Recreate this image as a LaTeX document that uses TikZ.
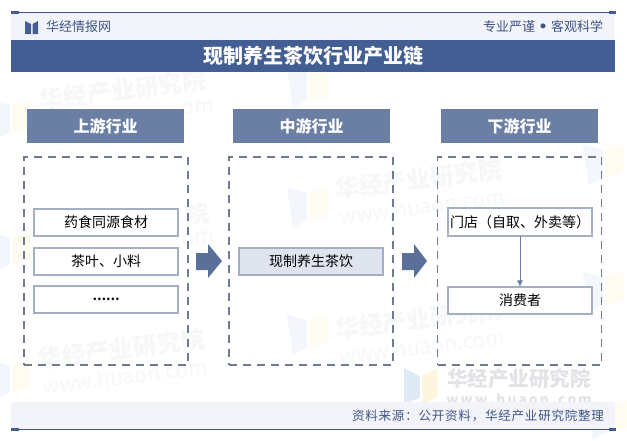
\documentclass[tikz,border=0pt]{standalone}
\usepackage{fontspec}
\setmainfont{Noto Sans CJK SC}
\usetikzlibrary{arrows.meta}
\definecolor{navy}{HTML}{435E92}
\definecolor{linenavy}{HTML}{3F5488}
\definecolor{stripbg}{HTML}{F2F4F9}
\definecolor{headbg}{HTML}{6A7FA3}
\definecolor{dashc}{HTML}{6F7B92}
\definecolor{boxc}{HTML}{A5AFC3}
\definecolor{midbg}{HTML}{DFE4EE}
\definecolor{arrowc}{HTML}{5A7099}
\definecolor{linkc}{HTML}{6F7DA0}
\definecolor{wmtext}{HTML}{F6F7F8}
\definecolor{wmstrong}{HTML}{E2E3E6}
\definecolor{wmblue}{HTML}{F3F7FC}
\definecolor{wmyellow}{HTML}{FEFBF0}
\definecolor{logoblue}{HTML}{DFEAF7}
\definecolor{logoyellow}{HTML}{FDF6DF}
\tikzset{
  base/.style={inner sep=0pt,outer sep=0pt,text=black},
  header/.style={base,fill=headbg,text=white,font=\fontsize{16}{16}\selectfont\bfseries,minimum width=157pt,minimum height=34pt},
  column/.style={base,draw=dashc,line width=1.8pt,dash pattern=on 8pt off 6pt,minimum width=164pt,minimum height=208pt},
  itembox/.style={base,draw=boxc,fill=white,line width=2pt,font=\fontsize{14}{14}\selectfont,minimum width=144pt,minimum height=27.5pt},
  midbox/.style={itembox,fill=midbg},
  flow/.style={fill=arrowc},
  link/.style={draw=linkc,line width=1pt,-{Latex[length=6.5pt,width=6.5pt]}},
  wm/.style={base,text=wmtext,font=\fontsize{24}{27}\selectfont\bfseries,rotate=7},
  wmblock/.style={wm,align=center},
  wmurl/.style={base,text=wmtext,font=\fontsize{21}{21}\selectfont,rotate=7},
}
\begin{document}
\begin{tikzpicture}[x=1pt,y=-1pt]
\useasboundingbox (0,0) rectangle (627,440);
\fill[white] (0,0) rectangle (627,440);
% faint watermarks
\node[wm] (wmna) at (123,90) {华经产业研究院};
\node[wmurl] (wmua) at (198,108) {om};
\node[wm] (wmnc) at (197,214) {院};
\node[wmurl] (wmuc) at (198,238) {om};
\foreach \wx/\wy/\wn in {420/191/b,420/331/d,123/361/e}{
  \node[wmblock] (wmn\wn) at (\wx,\wy) {华经产业研究院\\{\fontsize{21}{21}\selectfont\mdseries www.huaon.com}};
}
\foreach \lx/\ly in {-10/100,287/68,-10/232,287/188,583/145,-10/360,287/315,583/272,587/400}{
  \fill[wmblue] (\lx,\ly) -- (\lx+20,\ly+5) -- (\lx+20,\ly+32) -- (\lx+6,\ly+40) -- cycle;
  \fill[wmyellow] (\lx+22,\ly+5) -- (\lx+40,\ly) -- (\lx+40,\ly+28) -- (\lx+22,\ly+33) -- cycle;
}
% bottom-right logo
\fill[logoblue] (404,368) -- (420,376) -- (420,398) -- (404,404) -- cycle;
\fill[logoyellow] (422,376) -- (437,368) -- (437,398) -- (422,404) -- cycle;
\node[base,text=wmstrong,font=\fontsize{20.5}{20.5}\selectfont\bfseries] (wmname) at (519,379) {华经产业研究院};
\node[base,text=wmstrong,font=\fontsize{13.5}{13.5}\selectfont\bfseries] (wmsite) at (519,399) {w\,w\,w\,.\,h\,u\,a\,o\,n\,.\,c\,o\,m};
% strips
\fill[stripbg] (11,13) rectangle (615,40);
\fill[stripbg] (11,402) rectangle (615,429);
\draw[linenavy,line width=.9pt] (11,12.5) -- (616,12.5);
\draw[linenavy,line width=.9pt] (11,429) -- (616,429);
\fill[navy] (11,11) rectangle (19,14);
\fill[navy] (609,11) rectangle (616,14);
\fill[navy] (11,427.5) rectangle (19,430.5);
\fill[navy] (609,427.5) rectangle (616,430.5);
% logo glyph
\fill[navy] (25,21) -- (31,24) -- (31,34) -- (25,34) -- cycle;
\fill[navy] (38,21) -- (32.5,24) -- (32.5,34) -- (38,34) -- cycle;
\node[base,text=linenavy,font=\fontsize{13}{13}\selectfont,anchor=west] (brand) at (46,27) {华经情报网};
\node[base,text=linenavy,font=\fontsize{13}{13}\selectfont,anchor=east] (motto) at (603,26.5) {专业严谨\makebox[16pt]{\raisebox{2.7pt}{\fontsize{5.5}{5.5}\selectfont ●}}客观科学};
% title
\node[base,fill=navy,text=white,font=\fontsize{20}{20}\selectfont\bfseries,minimum width=604pt,minimum height=32pt] (title) at (313,56) {现制养生茶饮行业产业链};
% headers
\node[header] (h1) at (105.5,126) {上游行业};
\node[header] (h2) at (311.5,126) {中游行业};
\node[header] (h3) at (519.5,126) {下游行业};
% columns
\node[column] (c1) at (106,261) {};
\node[column] (c2) at (311,261) {};
\node[column] (c3) at (519.5,261) {};
% items
\node[itembox] (a1) at (106,222.5) {药食同源食材};
\node[itembox] (a2) at (106,261.5) {茶叶、小料};
\node[itembox,font=\fontsize{12}{12}\selectfont\bfseries] (a3) at (106,299.5) {……};
\node[midbox] (m1) at (311,261.5) {现制养生茶饮};
\node[itembox] (d1) at (520,222) {门店（自取、外卖等）};
\node[itembox] (d2) at (520,300.5) {消费者};
\draw[link] (d1) -- (d2);
% flow arrows
\fill[flow] (196,253) -- (208,253) -- (208,244) -- (222,261) -- (208,278) -- (208,270) -- (196,270) -- cycle;
\fill[flow] (402,253) -- (414,253) -- (414,244) -- (427,261) -- (414,278) -- (414,270) -- (402,270) -- cycle;
% footer
\node[base,text=linenavy,font=\fontsize{12.5}{12.5}\selectfont\addfontfeatures{LetterSpace=6.4},anchor=east] (src) at (604,416) {资料来源：公开资料，华经产业研究院整理};
\end{tikzpicture}
\end{document}
